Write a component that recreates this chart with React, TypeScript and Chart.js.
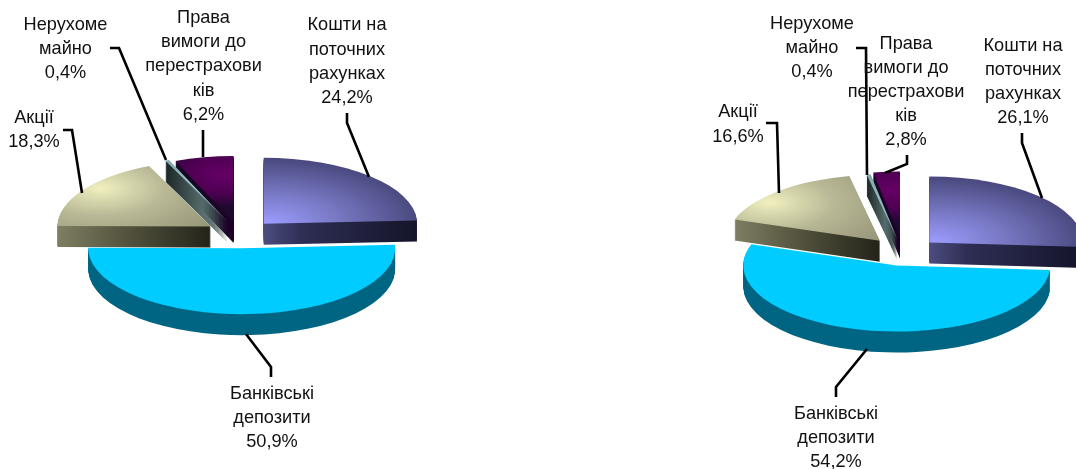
import React, { useEffect, useRef } from "react";
import { Chart, registerables } from "chart.js";

Chart.register(...registerables);

const categories = ["Кошти на поточних рахунках", "Банківські депозити", "Акції", "Нерухоме майно", "Права вимоги до перестраховиків"];
const labelLines = [
  ["Кошти на", "поточних", "рахунках"],
  ["Банківські", "депозити"],
  ["Акції"],
  ["Нерухоме", "майно"],
  ["Права", "вимоги до", "перестрахови", "ків"],
];
const valuesLeft = [24.2, 50.9, 18.3, 0.4, 6.2];
const valuesRight = [26.1, 54.2, 16.6, 0.4, 2.8];

// Explosion of each slice, in chart units, and a small vertical settle in px
const explodeLeft = [33, 33, 36, 35, 38];
const explodeRight = [36, 32, 35, 30, 34];
const settleLeft = [1, 1, 2, 2, 5];
const settleRight = [1, 0, 0, 0, 0];

const FONT = '18.2px "Liberation Sans", Arial, sans-serif';
const TILT = 0.43;
const DEPTH = 21;
const DRAW_ORDER = [4, 3, 2, 0, 1];

type Stop = [number, string];
type Style = { focus: [number, number]; reach: number; top: Stop[]; side: Stop[] };
const sliceStyles: Style[] = [
  { focus: [0.03, 0], reach: 1.02, top: [[0, "#9c9cff"], [0.45, "#7878c4"], [1, "#46467a"]], side: [[0, "#4c4c80"], [0.25, "#2e2e54"], [1, "#14142a"]] },
  { focus: [0, 0], reach: 1, top: [[0, "#00ccff"], [1, "#00ccff"]], side: [[0, "#006583"], [1, "#006583"]] },
  { focus: [-0.72, -0.58], reach: 1.05, top: [[0, "#f0f0c0"], [0.4, "#b8b896"], [1, "#8c8c70"]], side: [[0, "#7e7e62"], [0.5, "#4e4e3a"], [1, "#23231a"]] },
  { focus: [-0.3, -0.5], reach: 0.6, top: [[0, "#9cc4cc"], [1, "#7aa0a8"]], side: [[0, "#1c2626"], [0.6, "#566c6c"], [1, "#2c3a3a"]] },
  { focus: [-0.05, -0.72], reach: 0.5, top: [[0, "#660066"], [0.55, "#4e0052"], [1, "#1e0a2e"]], side: [[0, "#140a22"], [1, "#1e0028"]] },
];

type Label = { x: number; lines: number[] };
const labelsLeft: Label[] = [
  { x: 347, lines: [30, 55, 79, 103] },
  { x: 272, lines: [399, 423, 447] },
  { x: 34, lines: [123, 147] },
  { x: 65.5, lines: [30, 54, 78] },
  { x: 203.5, lines: [23, 47, 71, 96, 120] },
];
const labelsRight: Label[] = [
  { x: 1023, lines: [51, 75, 99, 123] },
  { x: 836, lines: [419, 443, 467] },
  { x: 738, lines: [117, 142] },
  { x: 812, lines: [29, 53, 77] },
  { x: 906, lines: [49, 73, 97, 121, 145] },
];
const leadersLeft = [
  [[347, 113], [347, 123], [369, 177]],
  [[246, 334], [271, 367], [271, 377]],
  [[63, 130], [72, 130], [82, 193]],
  [[110, 48], [119, 48], [166, 160]],
  [[203, 130], [203, 157]],
];
const leadersRight = [
  [[1022, 133], [1022, 143], [1042, 198]],
  [[836, 397], [836, 387], [867, 349]],
  [[766, 123], [777, 123], [779, 193]],
  [[856, 48], [866, 48], [867, 175]],
  [[907, 155], [907, 164], [885, 173]],
];

const formatValue = (v: number) => v.toFixed(1).replace(".", ",") + "%";

function slicePath(ctx: CanvasRenderingContext2D, cx: number, cy: number, r: number, a0: number, a1: number) {
  ctx.beginPath();
  ctx.moveTo(cx, cy);
  ctx.ellipse(cx, cy, r, r * TILT, 0, a0, a1);
  ctx.closePath();
}

const pie3d = {
  id: "pie3d",
  beforeDatasetDraw(chart: any, _args: any, opts: any) {
    const ctx: CanvasRenderingContext2D = chart.ctx;
    const arcs = chart.getDatasetMeta(0).data;
    for (const i of DRAW_ORDER) {
      const arc = arcs[i];
      const style = sliceStyles[i];
      const mid = (arc.startAngle + arc.endAngle) / 2;
      const d = arc.options.offset || 0;
      const r = arc.outerRadius;
      const cx = arc.x + Math.cos(mid) * d;
      const cy = arc.y + Math.sin(mid) * d * TILT + opts.settle[i];
      const xs = [0, Math.cos(arc.startAngle), Math.cos(arc.endAngle)];
      if (arc.startAngle <= Math.PI && arc.endAngle >= Math.PI) xs.push(-1);
      if (arc.startAngle <= 0 && arc.endAngle >= 0) xs.push(1);
      const side = ctx.createLinearGradient(cx + r * Math.min(...xs), 0, cx + r * Math.max(...xs), 0);
      style.side.forEach(([o, c]) => side.addColorStop(o, c));
      for (let h = DEPTH; h >= 1; h--) {
        slicePath(ctx, cx, cy + h, r, arc.startAngle, arc.endAngle);
        ctx.fillStyle = side;
        ctx.fill();
      }
      slicePath(ctx, cx, cy, r, arc.startAngle, arc.endAngle);
      ctx.save();
      ctx.translate(cx, cy);
      ctx.scale(1, TILT);
      const top = ctx.createRadialGradient(style.focus[0] * r, style.focus[1] * r, 0, style.focus[0] * r, style.focus[1] * r, style.reach * r);
      style.top.forEach(([o, c]) => top.addColorStop(o, c));
      ctx.fillStyle = top;
      ctx.fill();
      ctx.restore();
    }
    return false;
  },
};

const calloutPlugin = {
  id: "callouts",
  afterDatasetsDraw(chart: any, _args: any, opts: any) {
    const ctx: CanvasRenderingContext2D = chart.ctx;
    const { left, labels, leaders, values } = opts;
    ctx.save();
    ctx.translate(-left, 0);
    ctx.strokeStyle = "#000";
    ctx.lineWidth = 2.6;
    ctx.lineJoin = "miter";
    leaders.forEach((pts: number[][]) => {
      ctx.beginPath();
      pts.forEach(([x, y], i) => (i ? ctx.lineTo(x, y) : ctx.moveTo(x, y)));
      ctx.stroke();
    });
    ctx.font = FONT;
    ctx.fillStyle = "#111";
    ctx.textAlign = "center";
    ctx.textBaseline = "alphabetic";
    labels.forEach((lab: Label, i: number) => {
      const text = [...labelLines[i], formatValue(values[i])];
      text.forEach((t, j) => ctx.fillText(t, lab.x, lab.lines[j]));
    });
    ctx.restore();
  },
};

function Pie(props: { left: number; width: number; values: number[]; explode: number[]; settle: number[]; labels: Label[]; leaders: number[][][]; padding: any }) {
  const ref = useRef<HTMLCanvasElement>(null);
  useEffect(() => {
    const chart = new Chart(ref.current!, {
      type: "pie",
      data: {
        labels: categories,
        datasets: [{ data: props.values, offset: props.explode, radius: 153.5, borderWidth: 0 } as any],
      },
      options: {
        responsive: false,
        animation: false,
        layout: { padding: props.padding },
        events: [],
        plugins: {
          legend: { display: false },
          tooltip: { enabled: false },
          pie3d: { settle: props.settle },
          callouts: { left: props.left, labels: props.labels, leaders: props.leaders, values: props.values },
        } as any,
      },
      plugins: [pie3d, calloutPlugin],
    } as any);
    return () => chart.destroy();
  }, []);
  return (
    <canvas
      ref={ref}
      width={props.width}
      height={469}
      style={{ position: "absolute", left: props.left, top: 0, width: props.width, height: 469, display: "block" }}
    />
  );
}

export default function App() {
  return (
    <div style={{ position: "absolute", left: 0, top: 0, width: 1076, height: 469, overflow: "hidden", background: "#fff" }}>
      <Pie left={0} width={540} values={valuesLeft} explode={explodeLeft} settle={settleLeft} labels={labelsLeft} leaders={leadersLeft} padding={{ right: 58, bottom: 3 }} />
      <Pie left={540} width={536} values={valuesRight} explode={explodeRight} settle={settleRight} labels={labelsRight} leaders={leadersRight} padding={{ left: 190, top: 35 }} />
    </div>
  );
}
